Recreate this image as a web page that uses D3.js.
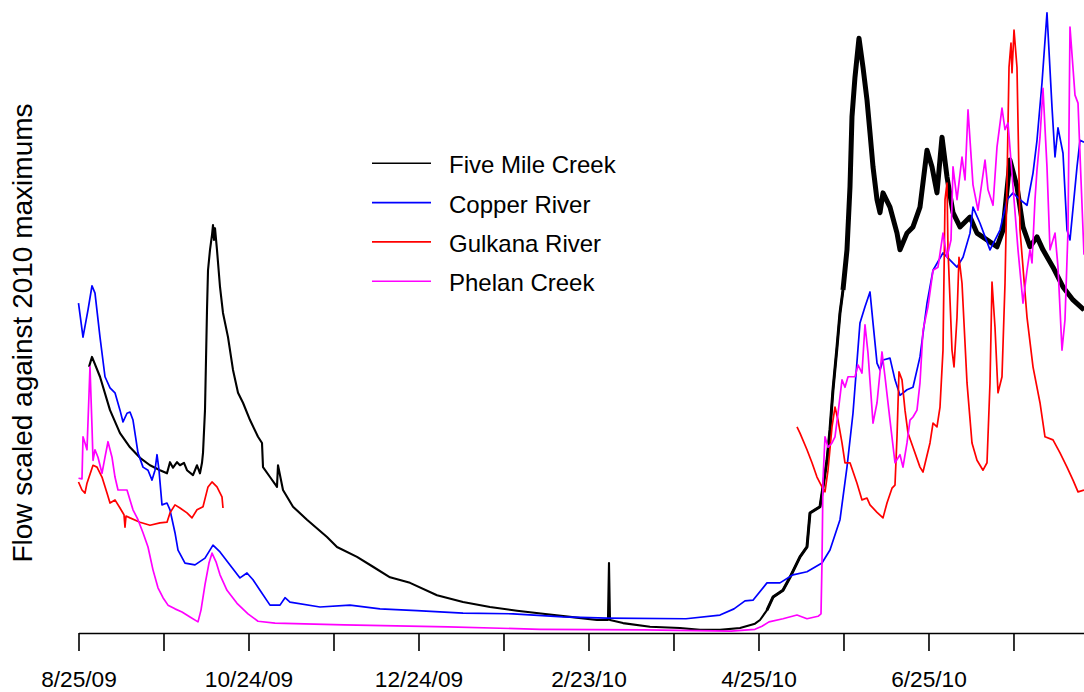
<!DOCTYPE html>
<html>
<head>
<meta charset="utf-8">
<script src="https://cdn.jsdelivr.net/npm/d3@7"></script>
<style>
  html, body { margin: 0; padding: 0; background: #fff; }
  svg { display: block; font-family: "Liberation Sans", Arial, Helvetica, sans-serif; }
</style>
</head>
<body>
<svg id="chart" width="1084" height="692"></svg>
<script>
// ---------------- data (days since 8/25/09, flow scaled against 2010 maximums) ----------------
const startDate = Date.UTC(2009, 7, 25);
const tickDays = [0, 30.4, 60.8, 91.2, 121.6, 152, 182.4, 212.8, 243.2, 273.6, 304, 334.4];
const tickLabels = ["8/25/09", "", "10/24/09", "", "12/24/09", "", "2/23/10", "", "4/25/10", "", "6/25/10", ""];
const seriesNames = ["Five Mile Creek", "Copper River", "Gulkana River", "Phelan Creek"];
const seriesColors = ["#000000", "#0000ff", "#ff0000", "#ff00ff"];

const fiveMileDays = [3.76,4.83,7.69,11.27,14.84,18.42,22.00,25.57,29.15,31.65,32.72,33.80,35.23,36.30,37.73,38.80,40.95,42.38,43.45,44.17,44.53,45.24,45.96,46.32,47.03,47.75,48.10,48.46,48.82,49.53,50.61,51.68,53.47,55.26,57.05,58.83,61.34,64.20,65.63,65.99,68.49,70.99,71.35,73.14,76.72,81.72,88.88,92.45,99.61,105.33,111.41,118.56,128.22,137.52,147.17,156.83,166.13,175.78,185.44,189.37,189.73,190.09,194.74,204.40,215.13,222.28,229.43,236.59,241.95,243.74,246.24,248.39,251.96,254.47,258.04,260.55,261.62,265.20,266.27,267.70,268.77,269.85,271.28,272.35,273.42,274.85,275.93,276.64,277.71,279.14,280.58,282.01,283.08,284.16,285.59,286.66,287.73,290.23,292.74,293.81,296.31,298.46,300.96,303.47,305.26,307.04,308.83,310.62,312.77,315.27,318.85,321.35,324.93,328.50,330.65,333.15,335.65,337.80,340.30,342.81,344.95,348.53,352.11,355.69,359.62];
const fiveMileFlow = [0.430,0.446,0.414,0.360,0.323,0.300,0.283,0.271,0.263,0.258,0.276,0.267,0.276,0.271,0.275,0.263,0.255,0.271,0.258,0.275,0.291,0.360,0.522,0.586,0.619,0.643,0.659,0.635,0.654,0.619,0.559,0.517,0.478,0.425,0.388,0.372,0.344,0.317,0.307,0.268,0.252,0.236,0.271,0.231,0.204,0.183,0.155,0.139,0.123,0.107,0.090,0.081,0.061,0.050,0.042,0.036,0.031,0.026,0.021,0.021,0.113,0.021,0.016,0.010,0.008,0.005,0.005,0.008,0.015,0.021,0.037,0.058,0.069,0.090,0.123,0.139,0.194,0.204,0.236,0.279,0.328,0.393,0.462,0.517,0.554,0.619,0.721,0.834,0.898,0.961,0.914,0.861,0.808,0.753,0.700,0.679,0.711,0.688,0.646,0.619,0.646,0.656,0.688,0.780,0.753,0.711,0.801,0.737,0.679,0.656,0.672,0.646,0.635,0.624,0.651,0.764,0.721,0.656,0.624,0.640,0.619,0.591,0.559,0.538,0.522];

const copperDays = [0,1.61,3.40,4.83,5.90,7.69,9.48,11.27,13.05,14.84,15.92,17.35,18.42,19.49,21.28,23.07,24.86,26.29,27.36,28.08,28.79,29.86,31.65,32.72,34.51,35.59,38.09,41.67,45.24,48.10,50.61,54.18,57.76,60.26,62.41,64.91,68.49,72.07,73.86,75.64,86.37,97.10,107.83,121.06,137.52,155.40,173.28,189.02,217.27,229.43,234.44,238.37,241.23,246.24,250.89,255.54,260.55,265.91,268.77,272.35,274.85,277.00,279.50,281.29,283.08,284.16,285.59,286.66,287.73,290.23,292.02,293.81,296.31,298.46,300.96,303.47,305.62,309.19,314.20,316.35,318.85,319.92,322.43,326.00,329.58,332.08,334.23,336.73,339.24,341.38,342.81,344.60,346.38,348.17,349.25,350.32,352.11,353.54,354.61,357.12,358.19,359.62];
const copperFlow = [0.533,0.478,0.522,0.561,0.549,0.478,0.414,0.396,0.388,0.360,0.341,0.355,0.357,0.344,0.291,0.268,0.263,0.247,0.263,0.288,0.263,0.207,0.210,0.199,0.162,0.134,0.113,0.110,0.121,0.142,0.131,0.110,0.089,0.097,0.086,0.069,0.045,0.045,0.057,0.050,0.042,0.045,0.039,0.036,0.032,0.031,0.026,0.024,0.023,0.029,0.039,0.052,0.053,0.081,0.081,0.094,0.099,0.113,0.134,0.183,0.268,0.355,0.501,0.527,0.551,0.501,0.436,0.425,0.441,0.444,0.409,0.384,0.393,0.397,0.446,0.533,0.586,0.614,0.591,0.607,0.646,0.688,0.662,0.619,0.651,0.700,0.711,0.700,0.691,0.743,0.796,0.889,1.002,0.850,0.769,0.816,0.775,0.651,0.635,0.753,0.796,0.793];

// Gulkana has a gap between the fall and spring records (null breaks the line)
const gulkanaDays = [0,1.25,2.32,3.04,5.19,6.62,8.40,10.19,11.27,13.05,14.84,16.27,16.63,16.99,18.42,22.00,25.57,29.15,31.65,32.72,34.51,36.30,38.80,40.59,42.38,44.53,46.32,47.75,49.53,51.32,51.68,150,256.97,258.04,260.55,262.34,264.12,265.91,266.99,268.06,269.49,270.56,271.64,273.07,274.14,275.93,278.43,280.22,282.01,283.08,285.59,287.73,289.16,290.95,292.02,292.74,293.45,294.53,295.60,296.67,298.46,300.96,302.04,304.54,305.62,307.04,308.12,309.19,309.91,310.62,310.98,312.41,313.13,314.20,314.91,315.99,317.78,319.56,321.35,323.50,324.93,326.00,326.72,327.79,328.86,330.29,331.37,332.08,332.80,333.51,333.87,334.59,335.65,336.73,339.24,341.38,343.88,345.67,348.53,351.04,353.54,355.69,357.48,359.62];
const gulkanaFlow = [0.244,0.231,0.226,0.242,0.271,0.268,0.252,0.226,0.210,0.215,0.202,0.191,0.171,0.189,0.186,0.179,0.174,0.178,0.179,0.194,0.207,0.202,0.194,0.186,0.199,0.204,0.236,0.244,0.236,0.220,0.202,null,0.333,0.323,0.296,0.275,0.252,0.236,0.228,0.263,0.333,0.365,0.344,0.307,0.275,0.275,0.242,0.215,0.218,0.207,0.195,0.186,0.210,0.234,0.239,0.317,0.422,0.409,0.360,0.323,0.300,0.268,0.260,0.307,0.339,0.333,0.365,0.457,0.700,0.727,0.619,0.457,0.430,0.510,0.607,0.565,0.404,0.307,0.279,0.263,0.275,0.404,0.567,0.494,0.388,0.414,0.565,0.727,0.914,0.953,0.905,0.974,0.914,0.651,0.510,0.430,0.372,0.317,0.312,0.291,0.268,0.247,0.228,0.231];

const phelanDays = [0,1.25,1.61,2.32,3.04,4.11,4.83,5.19,5.90,6.97,8.40,9.48,10.55,11.98,13.05,14.13,15.92,17.35,18.42,19.49,21.28,23.07,24.86,26.64,28.43,30.22,32.01,34.51,37.02,39.88,42.74,43.81,45.24,46.67,47.75,49.18,50.61,53.11,56.69,60.62,64.20,70.28,94.96,132.15,165.06,202.25,233.37,241.95,244.45,246.96,251.96,256.97,260.55,264.49,265.56,265.91,266.27,266.99,268.06,269.49,270.56,271.64,273.07,274.14,275.22,277.71,278.79,280.22,281.29,282.37,284.16,285.59,287.37,288.45,290.23,292.02,293.81,294.88,296.31,297.39,298.46,299.89,300.96,302.04,303.82,305.62,307.40,309.19,310.62,312.05,312.77,314.20,315.99,317.06,318.14,319.92,321.71,324.22,325.29,327.08,328.50,330.29,331.37,332.44,334.23,336.02,337.80,339.24,340.30,341.02,342.09,342.81,343.88,344.95,346.38,347.46,349.25,350.32,351.75,352.82,353.90,354.61,356.40,357.48,358.55,359.62];
const phelanFlow = [0.250,0.249,0.317,0.307,0.296,0.430,0.333,0.279,0.296,0.284,0.258,0.284,0.309,0.284,0.252,0.231,0.231,0.231,0.215,0.199,0.183,0.162,0.139,0.102,0.073,0.057,0.045,0.039,0.034,0.026,0.018,0.037,0.078,0.113,0.129,0.115,0.094,0.069,0.048,0.031,0.019,0.016,0.013,0.010,0.006,0.005,0.003,0.006,0.011,0.018,0.023,0.029,0.023,0.027,0.031,0.113,0.247,0.317,0.300,0.307,0.317,0.355,0.409,0.397,0.414,0.414,0.433,0.420,0.498,0.452,0.339,0.372,0.454,0.414,0.344,0.275,0.288,0.268,0.307,0.344,0.349,0.360,0.404,0.489,0.527,0.586,0.591,0.646,0.607,0.635,0.753,0.700,0.769,0.732,0.845,0.724,0.683,0.764,0.716,0.691,0.785,0.848,0.813,0.824,0.721,0.619,0.533,0.586,0.619,0.598,0.700,0.748,0.801,0.880,0.753,0.619,0.646,0.591,0.457,0.506,0.651,0.979,0.869,0.856,0.732,0.611];

// ---------------- chart ----------------
const W = 1084, H = 692;
const axisY = 633;
const svg = d3.select("#chart");
const toDate = d => new Date(startDate + d * 864e5);

const x = d3.scaleUtc()
  .domain([toDate(0), toDate(359.62)])
  .range([78.5, 1084]);
const y = d3.scaleLinear().domain([0, 1]).range([axisY, 14]);

svg.append("defs").append("clipPath").attr("id", "clip")
  .append("rect").attr("x", 0).attr("y", 0).attr("width", W).attr("height", axisY);

const line = d3.line()
  .defined(p => p[1] !== null)
  .x(p => x(toDate(p[0])))
  .y(p => y(p[1]));

const g = svg.append("g").attr("clip-path", "url(#clip)");
const toPts = (days, flow) => days.map((d, k) => [d, flow[k]]);

// Five Mile Creek: hourly record, its daily oscillation makes a dense band in spring/summer
const fivePts = toPts(fiveMileDays, fiveMileFlow);
g.append("path").datum(fivePts)
  .attr("fill", "none").attr("stroke", seriesColors[0])
  .attr("stroke-width", 2.1).attr("stroke-linejoin", "round").attr("d", line);
g.append("path").datum(fivePts.filter(p => p[0] >= 244 && p[0] < 274))
  .attr("fill", "none").attr("stroke", seriesColors[0])
  .attr("stroke-width", 3).attr("stroke-linejoin", "round").attr("d", line);
g.append("path").datum(fivePts.filter(p => p[0] >= 273.4))
  .attr("fill", "none").attr("stroke", seriesColors[0])
  .attr("stroke-width", 5).attr("stroke-linejoin", "round").attr("d", line);

[[copperDays, copperFlow], [gulkanaDays, gulkanaFlow], [phelanDays, phelanFlow]].forEach((s, i) => {
  g.append("path")
    .datum(toPts(s[0], s[1]))
    .attr("fill", "none")
    .attr("stroke", seriesColors[i + 1])
    .attr("stroke-width", 1.7)
    .attr("stroke-linejoin", "round")
    .attr("d", line);
});

// x axis
const xAxis = d3.axisBottom(x)
  .tickValues(tickDays.map(toDate))
  .tickFormat((d, i) => tickLabels[i])
  .tickSize(18)
  .tickSizeOuter(0)
  .tickPadding(20);
const ax = svg.append("g").attr("transform", `translate(0,${axisY})`).call(xAxis);
ax.select(".domain").attr("stroke", "#000").attr("stroke-width", 1.6);
ax.selectAll(".tick line").attr("stroke", "#000").attr("stroke-width", 1.6);
ax.selectAll(".tick text")
  .attr("fill", "#000")
  .style("font-family", "'Liberation Sans', Arial, Helvetica, sans-serif")
  .style("font-size", "22.7px");

// y label
svg.append("text")
  .attr("transform", "translate(32,333) rotate(-90)")
  .attr("text-anchor", "middle")
  .style("font-size", "28px")
  .attr("fill", "#000")
  .text("Flow scaled against 2010 maximums");

// legend
const legend = svg.append("g");
seriesNames.forEach((name, i) => {
  const ly = 163.3 + i * 39.3;
  legend.append("line")
    .attr("x1", 372).attr("x2", 431)
    .attr("y1", ly).attr("y2", ly)
    .attr("stroke", seriesColors[i]).attr("stroke-width", 1.6);
  legend.append("text")
    .attr("x", 449).attr("y", ly + 10)
    .style("font-size", "24px")
    .attr("fill", "#000")
    .text(name);
});
</script>
</body>
</html>
